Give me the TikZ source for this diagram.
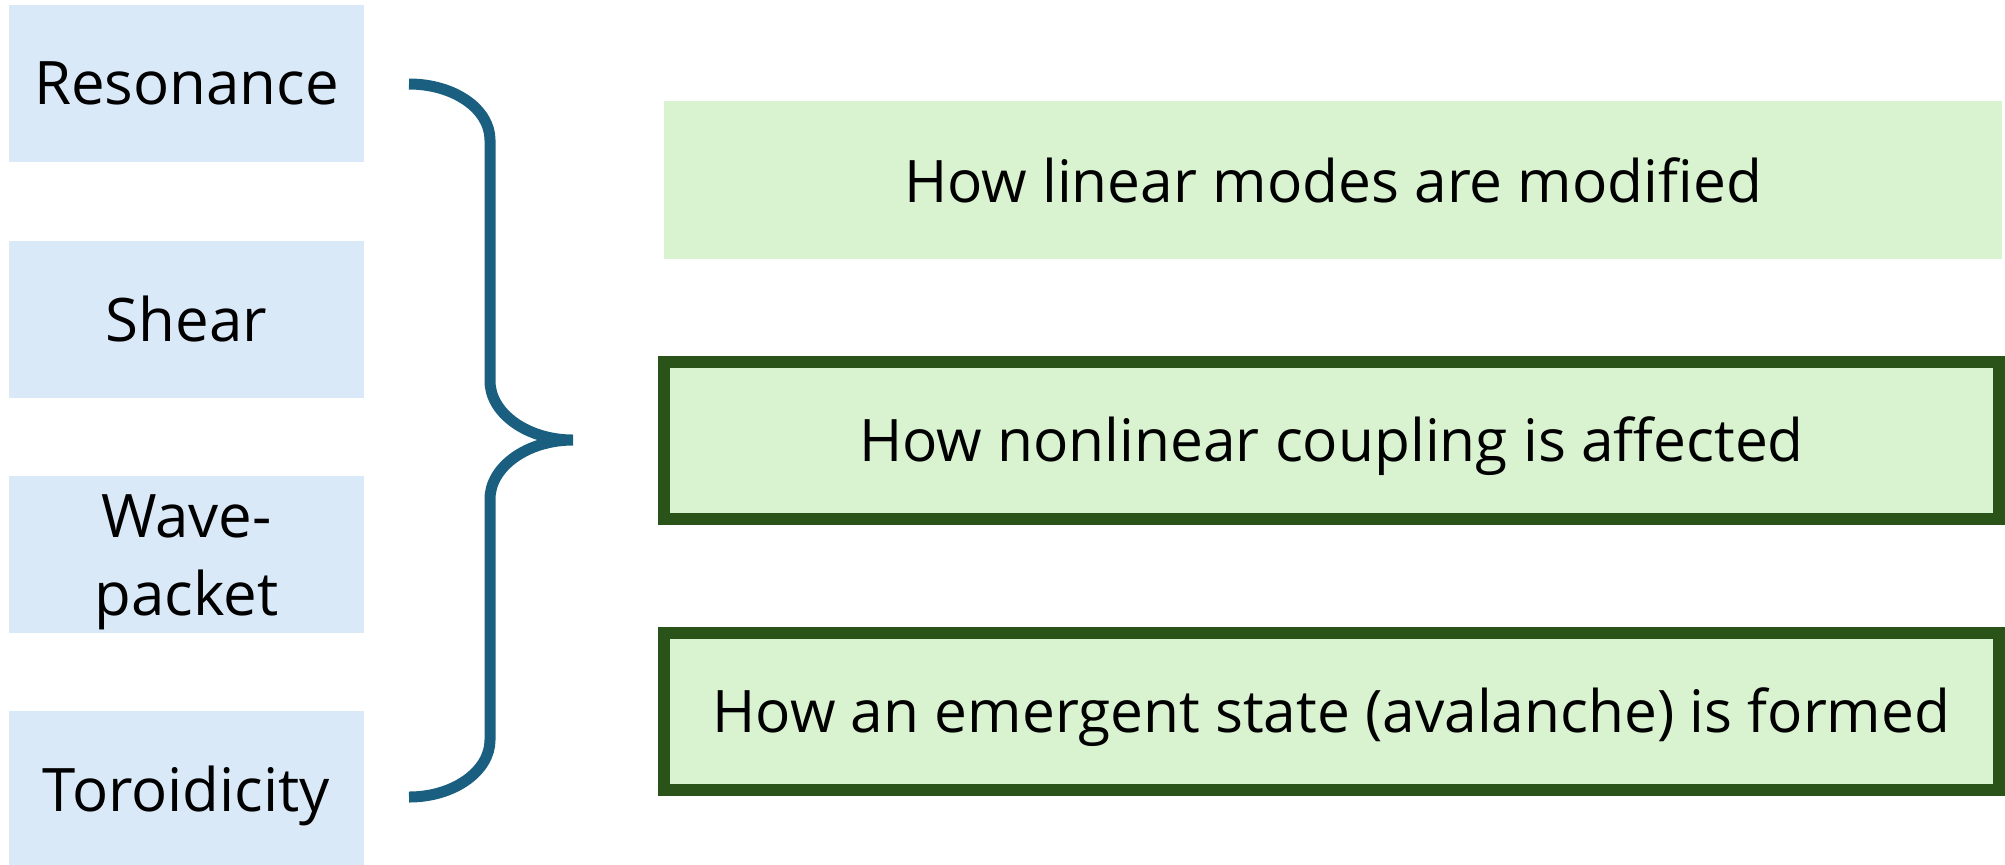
\documentclass[tikz,border=0pt]{standalone}
\usepackage{fontspec}
\setmainfont{Open Sans}
\definecolor{leftfill}{HTML}{DAE9F7}
\definecolor{rightfill}{HTML}{D9F2D0}
\definecolor{rightborder}{HTML}{2A531A}
\definecolor{bracecol}{HTML}{1A5F80}
\newcommand{\lowerby}[2]{\raisebox{-#1}[\height][\depth]{#2}}
\begin{document}
\begin{tikzpicture}[x=0.5pt,y=-0.5pt,
  every node/.style={inner sep=0pt, align=center},
  lefttext/.style={font=\fontsize{30}{39}\selectfont},
  righttext/.style={font=\fontsize{29.3}{38}\selectfont},
  leftbox/.style={lefttext, fill=leftfill, minimum width=177.5pt, minimum height=78.5pt},
  rightbox/.style={righttext, fill=rightfill, minimum width=669pt, minimum height=79pt},
  rightframed/.style={righttext, fill=rightfill, draw=rightborder, line width=6pt, minimum width=667.5pt, minimum height=78.5pt},
  bracestyle/.style={draw=bracecol, line width=5.5pt}]
\useasboundingbox (0,0) rectangle (2005,864);
\node[leftbox] (res) at (186.5,83.5) {Resonance};
\node[leftbox] (she) at (186.5,319) {Shear};
\node[leftbox] (wav) at (186.5,554.5) {};
\node[lefttext] (wavtxt) at (186.5,562) {Wave-\\packet};
\node[leftbox] (tor) at (186.5,789.5) {\lowerby{3pt}{Toroidicity}};
\node[rightbox] (lin) at (1333,180) {How linear modes are modified};
\node[rightframed] (non) at (1331.5,440.5) {\lowerby{3pt}{How nonlinear coupling is affected}};
\node[rightframed] (eme) at (1331.5,711.5) {\lowerby{3pt}{How an emergent state (avalanche) is formed}};
\coordinate (btop) at (409,84);
\coordinate (bmid) at (573,440);
\coordinate (bbot) at (409,797);
\draw[bracestyle] (btop) .. controls (454,84) and (490,109) .. (490,140)
  -- (490,381) .. controls (490,413) and (527,440) .. (bmid)
  .. controls (527,440) and (490,467) .. (490,499)
  -- (490,740) .. controls (490,771) and (454,797) .. (bbot);
\end{tikzpicture}
\end{document}
